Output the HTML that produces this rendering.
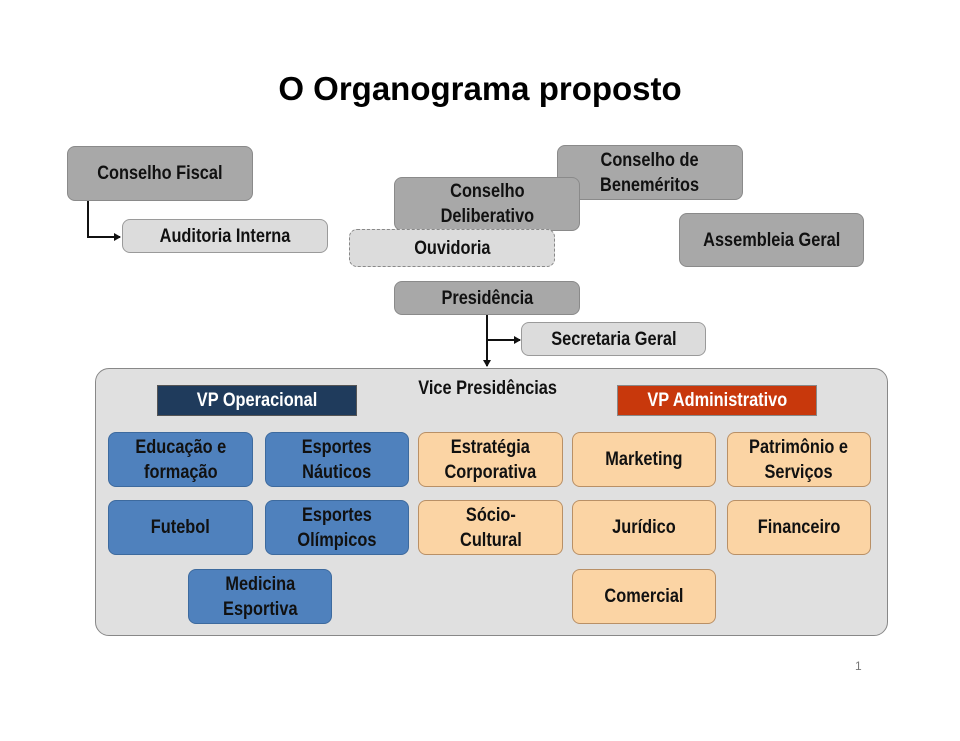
<!DOCTYPE html>
<html><head><meta charset="utf-8"><style>
body{margin:0;width:960px;height:741px;background:#fff;position:relative;overflow:hidden;font-family:"Liberation Sans",sans-serif;font-weight:bold;}
.b{position:absolute;box-sizing:border-box;display:flex;align-items:center;justify-content:center;text-align:center;border-radius:8px;font-size:19px;line-height:25px;color:#111;}
.b span{display:inline-block;transform:scaleX(.86);white-space:nowrap}
.d{background:#a8a8a8;border:1px solid #8a8a8a;}
.l{background:#dcdcdc;border:1px solid #9a9a9a;}
.u{background:#4f81bd;border:1px solid #3d6a9e;}
.o{background:#fbd4a4;border:1px solid #b99066;}
.t{position:absolute;}
</style></head><body>
<div class="t" style="left:0;width:960px;top:70px;text-align:center;font-size:33px;">O Organograma proposto</div>
<svg style="position:absolute;left:0;top:0" width="960" height="741">
<defs><marker id="a" markerWidth="8" markerHeight="8" refX="6" refY="4" orient="auto" markerUnits="userSpaceOnUse"><path d="M0,0 L7,4 L0,8 Z" fill="#111"/></marker></defs>
<polyline points="88,201 88,237 120,237" fill="none" stroke="#111" stroke-width="2" marker-end="url(#a)"/>
<line x1="487" y1="315" x2="487" y2="366" stroke="#111" stroke-width="2" marker-end="url(#a)"/>
<line x1="487" y1="340" x2="520" y2="340" stroke="#111" stroke-width="2" marker-end="url(#a)"/>
</svg>
<div class="b d" style="left:67px;top:146px;width:186px;height:55px"><span>Conselho Fiscal</span></div>
<div class="b l" style="left:122px;top:219px;width:206px;height:34px"><span>Auditoria Interna</span></div>
<div class="b d" style="left:557px;top:145px;width:186px;height:55px"><span>Conselho de<br>Beneméritos</span></div>
<div class="b d" style="left:394px;top:177px;width:186px;height:54px"><span>Conselho<br>Deliberativo</span></div>
<div class="b l" style="left:349px;top:229px;width:206px;height:38px;border:1px dashed #888;"><span>Ouvidoria</span></div>
<div class="b d" style="left:679px;top:213px;width:185px;height:54px"><span>Assembleia Geral</span></div>
<div class="b d" style="left:394px;top:281px;width:186px;height:34px"><span>Presidência</span></div>
<div class="b l" style="left:521px;top:322px;width:185px;height:34px"><span>Secretaria Geral</span></div>
<div style="position:absolute;left:95px;top:368px;width:793px;height:268px;box-sizing:border-box;background:#e0e0e0;border:1.5px solid #888;border-radius:14px"></div>
<div class="b" style="left:388px;width:200px;top:376px;height:25px"><span>Vice Presidências</span></div>
<div class="b" style="left:157px;top:385px;width:200px;height:31px;background:#1f3b5c;border:1px solid #555;border-radius:0;color:#fff"><span>VP Operacional</span></div>
<div class="b" style="left:617px;top:385px;width:200px;height:31px;background:#c8380c;border:1px solid #888;border-radius:0;color:#fff"><span>VP Administrativo</span></div>
<div class="b u" style="left:108px;top:432px;width:145px;height:55px"><span>Educação e<br>formação</span></div>
<div class="b u" style="left:265px;top:432px;width:144px;height:55px"><span>Esportes<br>Náuticos</span></div>
<div class="b o" style="left:418px;top:432px;width:145px;height:55px"><span>Estratégia<br>Corporativa</span></div>
<div class="b o" style="left:572px;top:432px;width:144px;height:55px"><span>Marketing</span></div>
<div class="b o" style="left:727px;top:432px;width:144px;height:55px"><span>Patrimônio e<br>Serviços</span></div>
<div class="b u" style="left:108px;top:500px;width:145px;height:55px"><span>Futebol</span></div>
<div class="b u" style="left:265px;top:500px;width:144px;height:55px"><span>Esportes<br>Olímpicos</span></div>
<div class="b o" style="left:418px;top:500px;width:145px;height:55px"><span>Sócio-<br>Cultural</span></div>
<div class="b o" style="left:572px;top:500px;width:144px;height:55px"><span>Jurídico</span></div>
<div class="b o" style="left:727px;top:500px;width:144px;height:55px"><span>Financeiro</span></div>
<div class="b u" style="left:188px;top:569px;width:144px;height:55px"><span>Medicina<br>Esportiva</span></div>
<div class="b o" style="left:572px;top:569px;width:144px;height:55px"><span>Comercial</span></div>
<div class="t" style="left:855px;top:659px;font-size:12px;font-weight:normal;color:#777">1</div>
</body></html>
